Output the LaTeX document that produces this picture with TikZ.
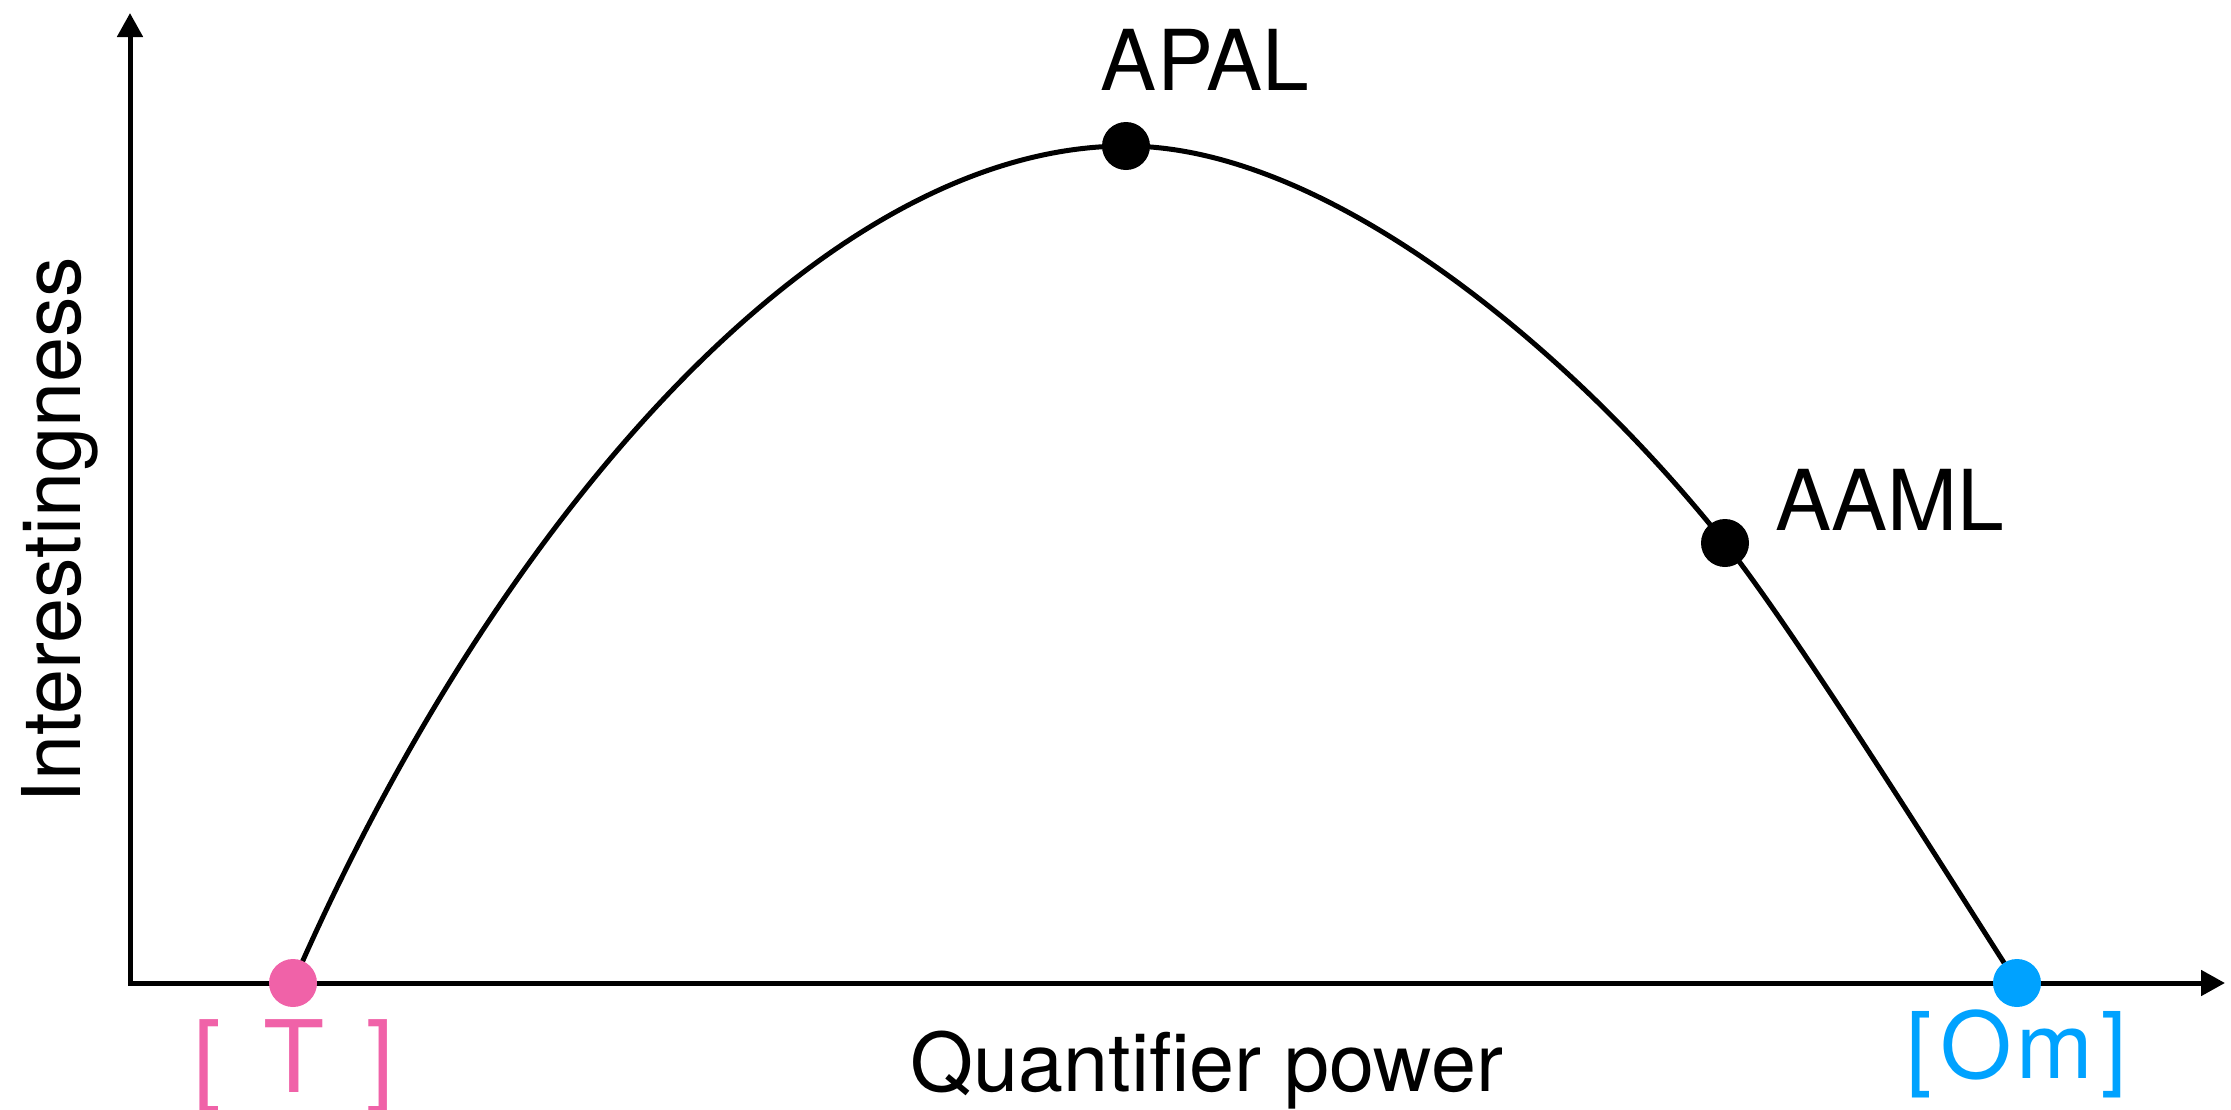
\documentclass[tikz,border=0pt]{standalone}
\usepackage{fontspec}
\setmainfont{TeX Gyre Heros}
\usetikzlibrary{arrows.meta}
\definecolor{dotpink}{HTML}{F062A8}
\definecolor{dotblue}{HTML}{00A2FF}
\pgfdeclarelayer{bg}
\pgfsetlayers{bg,main}
\begin{document}
\begin{tikzpicture}[x=1pt,y=-1pt,
  axis/.style={line width=5pt, line join=miter,
    {Triangle[length=24pt,width=25pt]}-{Triangle[length=24pt,width=25pt]}},
  curveline/.style={line width=5pt},
  dot/.style={circle, fill=#1, inner sep=0pt, minimum size=48pt},
  lbl/.style={inner sep=0pt, font=\fontsize{84}{92}\selectfont},
  axlbl/.style={inner sep=0pt, font=\fontsize{81}{90}\selectfont}]
\useasboundingbox (0,0) rectangle (2231,1109);
\coordinate (O) at (130,983);
\coordinate (ytip) at (130,13);
\coordinate (xtip) at (2225,983);
\node[dot=dotpink] (top) at (293,983) {};
\node[dot=black] (apal) at (1126,146) {};
\node[dot=black] (aaml) at (1725,543) {};
\node[dot=dotblue] (om) at (2017,983) {};
\begin{pgfonlayer}{bg}
\draw[axis] (ytip) -- (O) -- (xtip);
\draw[curveline] (top.center) .. controls (493,523) and (821,146) .. (apal.center)
  .. controls (1326,146) and (1570,348) .. (aaml.center)
  .. controls (1799,637) and (1952,882) .. (om.center);
\end{pgfonlayer}
\node[lbl, anchor=base] (apallbl) at (1205,90) {APAL};
\node[lbl, anchor=base west] (aamllbl) at (1775,530) {AAML};
\node[axlbl, anchor=base] (xlbl) at (1207,1091) {Quantifier power};
\node[axlbl, anchor=base, rotate=90] (ylbl) at (80,530) {Interestingness};
\node[inner sep=0pt, anchor=base, text=dotpink, font=\fontsize{100}{110}\selectfont] (toplbl) at (294,1092) {[\hspace{42pt}T\hspace{42pt}]};
\node[inner sep=0pt, anchor=base, text=dotblue, font=\fontsize{92}{100}\selectfont] (omlbl) at (2017,1078) {[\kern8pt O\kern5pt m\kern8pt]};
\end{tikzpicture}
\end{document}
